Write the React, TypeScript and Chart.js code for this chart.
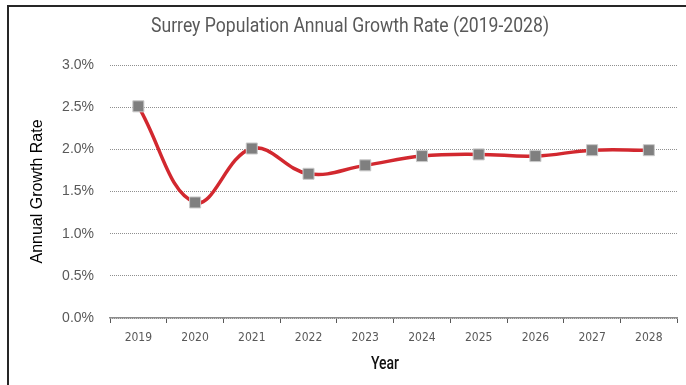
import React, { useEffect, useRef } from "react";
import { Chart, registerables } from "chart.js";

Chart.register(...registerables);

const years = ["2019", "2020", "2021", "2022", "2023", "2024", "2025", "2026", "2027", "2028"];
const growthRate = [2.51, 1.37, 2.01, 1.71, 1.81, 1.92, 1.94, 1.92, 1.99, 1.99];
const titleText = "Surrey Population Annual Growth Rate (2019-2028)";
const yTitle = "Annual Growth Rate";
const xTitle = "Year";

const NARROW = "'DejaVu Sans Condensed', sans-serif";
const ARIAL = "'Liberation Sans', Arial, sans-serif";

// draws condensed text (title and x-axis title) horizontally compressed
const condensedText = {
  id: "condensedText",
  afterDraw(chart: any) {
    const ctx = chart.ctx as CanvasRenderingContext2D;
    const draw = (text: string, cx: number, cy: number, font: string, color: string, width: number) => {
      ctx.save();
      ctx.font = font;
      ctx.fillStyle = color;
      ctx.textAlign = "center";
      ctx.textBaseline = "middle";
      const w = ctx.measureText(text).width;
      const sx = width / w;
      ctx.translate(cx, cy);
      ctx.scale(sx, 1);
      ctx.fillText(text, 0, 0);
      ctx.restore();
    };
    draw(titleText, 350, 27, "20px Roboto, 'Liberation Sans', sans-serif", "#595959", 398);
    draw(xTitle, 385, 364, "500 18px Roboto, 'Liberation Sans', sans-serif", "#111111", 28);
  },
};

export default function App() {
  const ref = useRef<HTMLCanvasElement | null>(null);
  useEffect(() => {
    if (!ref.current) return;
    const chart = new Chart(ref.current, {
      type: "line",
      data: {
        labels: years,
        datasets: [
          {
            data: growthRate,
            borderColor: "#d2282f",
            borderWidth: 3.5,
            tension: 0.4,
            pointStyle: "rect",
            pointRadius: 7.8,
            pointBackgroundColor: "#7f7f7f",
            pointBorderColor: "#c9c9c9",
            pointBorderWidth: 1,
            fill: false,
          },
        ],
      },
      plugins: [condensedText],
      options: {
        animation: false,
        responsive: false,
        devicePixelRatio: 1,
        layout: { padding: { left: 14, right: 2, top: 65, bottom: 0 } },
        plugins: {
          legend: { display: false },
          tooltip: { enabled: false },
          title: { display: false },
        },
        scales: {
          x: {
            type: "category",
            offset: true,
            grid: {
              display: true,
              offset: true,
              drawOnChartArea: false,
              drawTicks: true,
              tickLength: 5,
              color: "#595959",
              lineWidth: 1,
            },
            border: { display: true, color: "#8c8c8c", width: 1.5 },
            ticks: {
              color: "#595959",
              font: { family: NARROW, size: 12 },
              padding: 8,
              maxRotation: 0,
            },
            title: { display: false },
            afterFit: (s: any) => {
              s.height = 67;
            },
          },
          y: {
            min: 0,
            max: 3,
            ticks: {
              stepSize: 0.5,
              color: "#595959",
              font: { family: ARIAL, size: 14 },
              padding: 16,
              callback: (v: any) => Number(v).toFixed(1) + "%",
            },
            grid: {
              drawTicks: false,
              color: "#8f8f8f",
              lineWidth: 1,
            },
            border: { display: false, dash: [1, 1] },
            title: {
              display: true,
              text: yTitle,
              color: "#000000",
              font: { family: ARIAL, size: 16, weight: "normal" },
              padding: { top: 14.4, bottom: 0 },
            },
            afterFit: (s: any) => {
              s.width = 96;
            },
          },
        },
      },
    });
    return () => chart.destroy();
  }, []);

  return (
    <div style={{ position: "fixed", left: 0, top: 0, width: 686, height: 385, background: "#fff", overflow: "hidden" }}>
      <div
        style={{
          position: "absolute",
          left: 7,
          top: 5,
          width: 720,
          height: 420,
          borderTop: "2px solid #262626",
          borderLeft: "2px solid #262626",
        }}
      />
      <canvas ref={ref} width={686} height={385} style={{ position: "absolute", left: 0, top: 0, width: 686, height: 385 }} />
    </div>
  );
}
